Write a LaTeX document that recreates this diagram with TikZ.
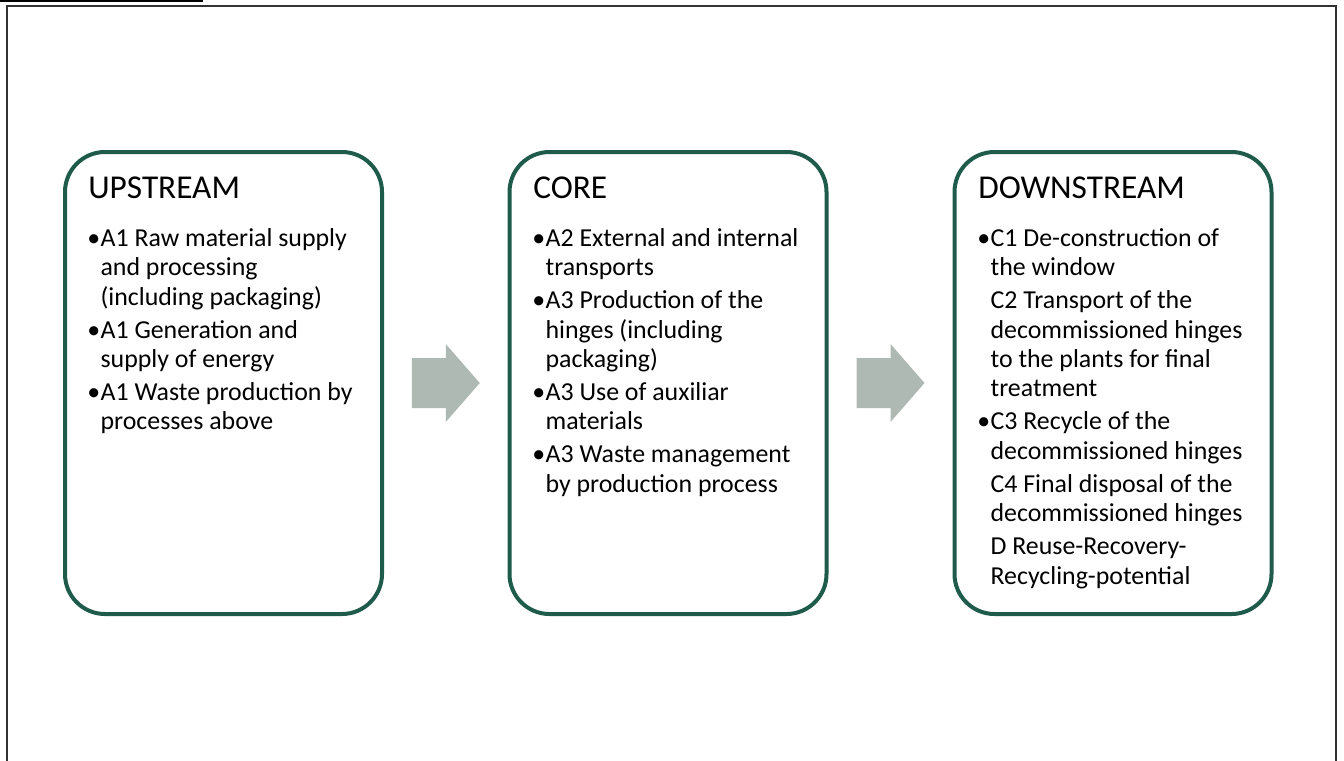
\documentclass[tikz,border=0pt]{standalone}
\usepackage{fontspec}
\setmainfont{Carlito}
\usetikzlibrary{calc}
\definecolor{boxgreen}{HTML}{1E5B4B}
\definecolor{arrowgray}{HTML}{AEB9B4}
\newcommand{\bul}{\makebox[10pt][l]{\textbullet}}
\newcommand{\ind}{\hspace*{10pt}}
\begin{document}
\begin{tikzpicture}[x=0.75pt,y=-0.75pt]
                \tikzset{stagebox/.style={draw=boxgreen, line width=3pt, rounded corners=30pt, minimum width=317*0.75pt, minimum height=462*0.75pt, inner sep=0pt},
                  stagetitle/.style={inner sep=0pt, anchor=base west, font=\fontsize{25}{30}\selectfont},
                  stagelist/.style={inner sep=0pt, anchor=north west, align=left, font=\fontsize{19.4}{22.1}\selectfont}}
                \useasboundingbox (0,0) rectangle (1344,760);
                \draw [line width=1.2pt] (0,1) -- (203,1);
                \draw [line width=1.2pt, black!80] (7,765) -- (7,6) -- (1336,6) -- (1336,765);
                \node [stagebox] (up) at (223.5,383) {};
                \node [stagebox] (core) at (668,383) {};
                \node [stagebox] (down) at (1113,383) {};
                \node [stagetitle] (upt) at (88,198) {UPSTREAM};
                \node [stagetitle] (coret) at (533,198) {CORE};
                \node [stagetitle] (downt) at (978,198) {DOWNSTREAM};
                \node [stagelist] (upl) at (87,228) {\bul A1 Raw material supply\\ \ind and processing\\ \ind (including packaging)\\[2.6pt] \bul A1 Generation and\\ \ind supply of energy\\[2.6pt] \bul A1 Waste production by\\ \ind processes above};
                \node [stagelist] (corel) at (532,228) {\bul A2 External and internal\\ \ind transports\\[2.6pt] \bul A3 Production of the\\ \ind hinges (including\\ \ind packaging)\\[2.6pt] \bul A3 Use of auxiliar\\ \ind materials\\[2.6pt] \bul A3 Waste management\\ \ind by production process};
                \node [stagelist] (downl) at (977,228) {\bul C1 De-construction of\\ \ind the window\\[2.6pt] \ind C2 Transport of the\\ \ind decommissioned hinges\\ \ind to the plants for final\\ \ind treatment\\[2.6pt] \bul C3 Recycle of the\\ \ind decommissioned hinges\\[2.6pt] \ind C4 Final disposal of the\\ \ind decommissioned hinges\\[2.6pt] \ind D Reuse-Recovery-\\ \ind Recycling-potential};
                \coordinate (a1) at ($(up.east)!0.5!(core.west)$);
                \coordinate (a2) at ($(core.east)!0.5!(down.west)$);
                \foreach \a in {a1,a2}
                  \fill [arrowgray] ($(\a)+(-34,-25)$) -- ($(\a)+(0,-25)$) -- ($(\a)+(0,-39)$) -- ($(\a)+(34,0)$) -- ($(\a)+(0,39)$) -- ($(\a)+(0,25)$) -- ($(\a)+(-34,25)$) -- cycle;
\end{tikzpicture}
\end{document}
